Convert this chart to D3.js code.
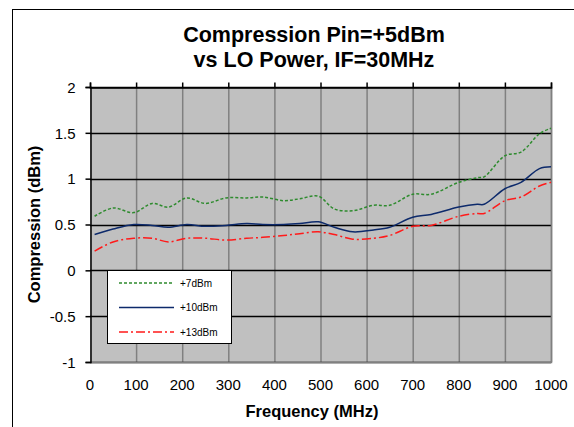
<!DOCTYPE html>
<html><head><meta charset="utf-8">
<script src="https://cdn.jsdelivr.net/npm/d3@7"></script>
<style>body{margin:0;background:#fff}svg{display:block}</style>
</head><body>
<svg id="c" width="574" height="427"></svg>
<script>
const titleLines = ["Compression Pin=+5dBm", "vs LO Power, IF=30MHz"];
const xTitle = "Frequency (MHz)";
const yTitle = "Compression (dBm)";
const xTicks = [0,100,200,300,400,500,600,700,800,900,1000];
const yTicks = [-1,-0.5,0,0.5,1,1.5,2];
const seriesNames = ["+7dBm","+10dBm","+13dBm"];
const freq = [10,50,95,135,170,210,250,295,340,375,420,455,495,530,570,615,650,700,740,800,840,855,900,935,975,1000];
const lo7  = [0.59,0.68,0.63,0.73,0.69,0.79,0.73,0.79,0.79,0.80,0.76,0.78,0.81,0.67,0.65,0.71,0.71,0.83,0.83,0.96,1.01,1.02,1.25,1.29,1.49,1.55];
const lo10 = [0.39,0.45,0.50,0.49,0.47,0.50,0.48,0.49,0.51,0.50,0.50,0.51,0.53,0.47,0.42,0.44,0.47,0.58,0.61,0.69,0.72,0.72,0.89,0.96,1.11,1.13];
const lo13 = [0.21,0.31,0.35,0.35,0.31,0.35,0.35,0.33,0.35,0.36,0.38,0.40,0.42,0.39,0.34,0.35,0.38,0.48,0.49,0.59,0.62,0.62,0.76,0.80,0.92,0.96];

const svg = d3.select("#c");
const L=90, R=551, T=87, B=362;
const x = d3.scaleLinear().domain([0,1000]).range([L,R]);
const y = d3.scaleLinear().domain([-1,2]).range([B,T]);
const font = "Arial, 'Liberation Sans', sans-serif";

// outer chart border
svg.append("rect").attr("x",12.5).attr("y",9.5).attr("width",600).attr("height",500)
  .attr("fill","#fff").attr("stroke","#000").attr("stroke-width",1);

// title
svg.append("g").selectAll("text").data(titleLines).join("text")
  .attr("x",314).attr("y",(d,i)=>42+i*25).attr("text-anchor","middle")
  .attr("font-family",font).attr("font-weight","bold").attr("font-size",21.5).text(d=>d);

// plot area
svg.append("rect").attr("x",L).attr("y",T).attr("width",R-L).attr("height",B-T).attr("fill","#c0c0c0");

// vertical gridlines
svg.append("g").selectAll("line").data(xTicks.slice(1)).join("line")
  .attr("x1",d=>x(d)+0.5).attr("x2",d=>x(d)+0.5).attr("y1",T).attr("y2",B)
  .attr("stroke","#808080").attr("stroke-width",1.5);
// horizontal gridlines
svg.append("g").selectAll("line").data(yTicks).join("line")
  .attr("x1",L).attr("x2",R).attr("y1",d=>Math.round(y(d))+0.5).attr("y2",d=>Math.round(y(d))+0.5)
  .attr("stroke","#000").attr("stroke-width",1.5);
// plot border right/bottom
svg.append("path").attr("d",`M${R+0.5},${T}V${B+0.5}H${L}`).attr("fill","none").attr("stroke","#808080").attr("stroke-width",1.5);

// x axis at top with ticks upward
const xAxis = d3.axisTop(x).tickValues(xTicks).tickSize(5).tickFormat("");
svg.append("g").attr("transform",`translate(0,${T+0.5})`).call(xAxis)
  .call(g=>g.selectAll("path,line").attr("stroke","#000").attr("stroke-width",1.5));
// x tick labels at bottom
svg.append("g").selectAll("text").data(xTicks).join("text")
  .attr("x",d=>x(d)).attr("y",390).attr("text-anchor","middle")
  .attr("font-family",font).attr("font-size",15).text(d=>d);

// y axis
const fmt = d => String(d).replace("\u2212","-");
const yAxis = d3.axisLeft(y).tickValues(yTicks).tickSize(5).tickPadding(10).tickFormat(fmt);
svg.append("g").attr("transform",`translate(${L+0.5},0)`).call(yAxis)
  .call(g=>g.selectAll("path,line").attr("stroke","#000").attr("stroke-width",1.5))
  .call(g=>g.selectAll("text").attr("font-family",font).attr("font-size",15).attr("fill","#000").attr("dy","0.35em"));

// axis titles
svg.append("text").attr("x",312).attr("y",417).attr("text-anchor","middle")
  .attr("font-family",font).attr("font-weight","bold").attr("font-size",16.5).text(xTitle);
svg.append("text").attr("transform",`translate(40,${(T+B)/2}) rotate(-90)`).attr("text-anchor","middle")
  .attr("font-family",font).attr("font-weight","bold").attr("font-size",16.5).text(yTitle);

// series
const styles = [
  {vals:lo7, color:"#2e8b2e", dash:"3,2", w:1.5},
  {vals:lo10, color:"#0d2a6b", dash:null, w:1.5},
  {vals:lo13, color:"#ff1a1a", dash:"9,3,2,3", w:1.5}
];
const line = d3.line().x(d=>x(d[0])).y(d=>y(d[1])).curve(d3.curveCatmullRom.alpha(0.5));
styles.forEach(s=>{
  svg.append("path").datum(freq.map((f,i)=>[f,s.vals[i]])).attr("d",line)
    .attr("fill","none").attr("stroke",s.color).attr("stroke-width",s.w)
    .attr("stroke-dasharray",s.dash);
});

// legend
const lg = svg.append("g");
lg.append("rect").attr("x",107.5).attr("y",270.5).attr("width",124).attr("height",73)
  .attr("fill","#fff").attr("stroke","#000").attr("stroke-width",1);
seriesNames.forEach((n,i)=>{
  const yy = 283 + i*24.5;
  lg.append("line").attr("x1",119).attr("x2",174).attr("y1",yy).attr("y2",yy)
    .attr("stroke",styles[i].color).attr("stroke-width",1.3).attr("stroke-dasharray",styles[i].dash);
  lg.append("text").attr("x",180).attr("y",yy).attr("dy","0.35em")
    .attr("font-family",font).attr("font-size",10).text(n);
});
</script>
</body></html>
